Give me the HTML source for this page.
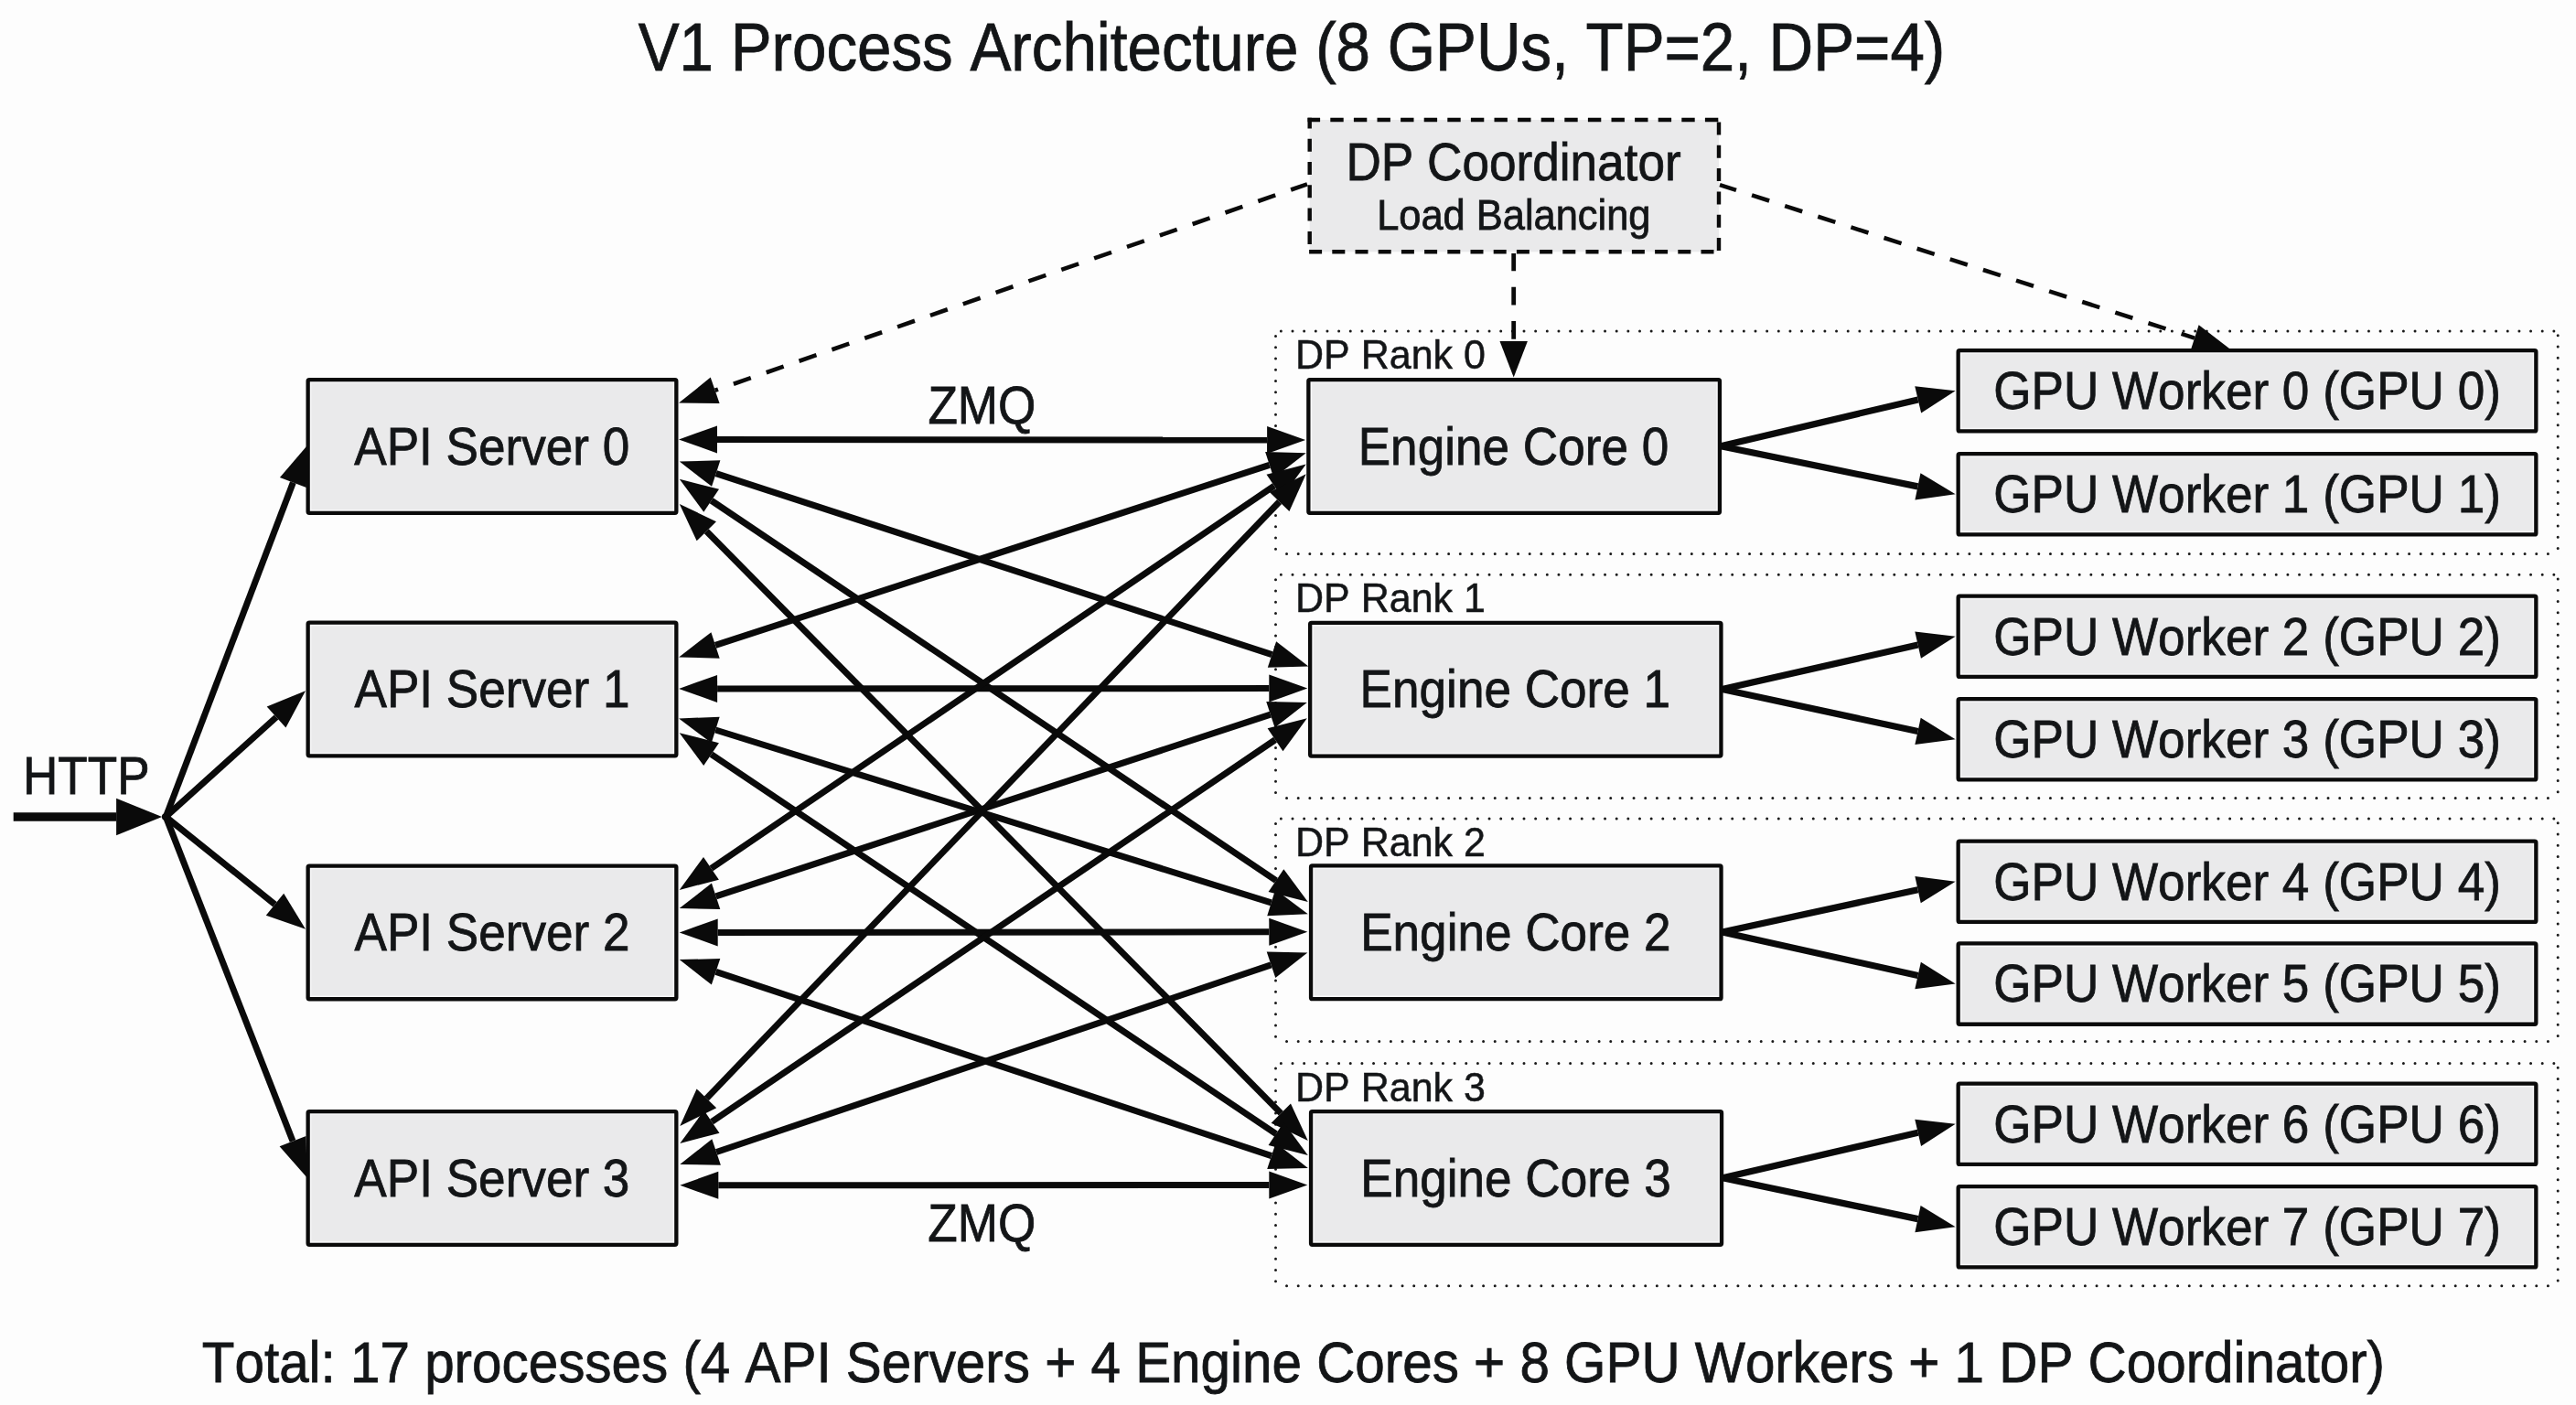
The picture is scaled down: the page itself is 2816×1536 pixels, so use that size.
<!DOCTYPE html><html><head><meta charset="utf-8"><style>html,body{margin:0;padding:0;background:#fdfdfd;}svg{display:block;will-change:transform;}text{font-family:"Liberation Sans",sans-serif;font-kerning:none;stroke:#131517;stroke-width:0.8px;paint-order:stroke;}text.lt{stroke-width:0.5px;}</style></head><body>
<svg width="2816" height="1536" viewBox="0 0 2816 1536">
<rect width="2816" height="1536" fill="#fdfdfd"/>
<line x1="1394.5" y1="361.9" x2="2796.2" y2="361.9" stroke="#1a1a1a" stroke-width="3.0" stroke-linecap="round" fill="none" stroke-dasharray="0 12.65" stroke-dashoffset="-5.85"/>
<line x1="1394.5" y1="605.5" x2="2796.2" y2="605.5" stroke="#1a1a1a" stroke-width="3.0" stroke-linecap="round" fill="none" stroke-dasharray="0 12.65" stroke-dashoffset="-12.05"/>
<line x1="1394.5" y1="361.9" x2="1394.5" y2="605.5" stroke="#1a1a1a" stroke-width="3.0" stroke-linecap="round" fill="none" stroke-dasharray="0 12.25" stroke-dashoffset="-5.5"/>
<line x1="2796.2" y1="361.9" x2="2796.2" y2="605.5" stroke="#1a1a1a" stroke-width="3.0" stroke-linecap="round" fill="none" stroke-dasharray="0 12.25" stroke-dashoffset="-4.8"/>
<line x1="1394.5" y1="628.2" x2="2796.2" y2="628.2" stroke="#1a1a1a" stroke-width="3.0" stroke-linecap="round" fill="none" stroke-dasharray="0 12.65" stroke-dashoffset="-5.85"/>
<line x1="1394.5" y1="872.4" x2="2796.2" y2="872.4" stroke="#1a1a1a" stroke-width="3.0" stroke-linecap="round" fill="none" stroke-dasharray="0 12.65" stroke-dashoffset="-12.05"/>
<line x1="1394.5" y1="628.2" x2="1394.5" y2="872.4" stroke="#1a1a1a" stroke-width="3.0" stroke-linecap="round" fill="none" stroke-dasharray="0 12.25" stroke-dashoffset="-5.5"/>
<line x1="2796.2" y1="628.2" x2="2796.2" y2="872.4" stroke="#1a1a1a" stroke-width="3.0" stroke-linecap="round" fill="none" stroke-dasharray="0 12.25" stroke-dashoffset="-4.8"/>
<line x1="1394.5" y1="895" x2="2796.2" y2="895" stroke="#1a1a1a" stroke-width="3.0" stroke-linecap="round" fill="none" stroke-dasharray="0 12.65" stroke-dashoffset="-5.85"/>
<line x1="1394.5" y1="1138.5" x2="2796.2" y2="1138.5" stroke="#1a1a1a" stroke-width="3.0" stroke-linecap="round" fill="none" stroke-dasharray="0 12.65" stroke-dashoffset="-12.05"/>
<line x1="1394.5" y1="895" x2="1394.5" y2="1138.5" stroke="#1a1a1a" stroke-width="3.0" stroke-linecap="round" fill="none" stroke-dasharray="0 12.25" stroke-dashoffset="-5.5"/>
<line x1="2796.2" y1="895" x2="2796.2" y2="1138.5" stroke="#1a1a1a" stroke-width="3.0" stroke-linecap="round" fill="none" stroke-dasharray="0 12.25" stroke-dashoffset="-4.8"/>
<line x1="1394.5" y1="1162.4" x2="2796.2" y2="1162.4" stroke="#1a1a1a" stroke-width="3.0" stroke-linecap="round" fill="none" stroke-dasharray="0 12.65" stroke-dashoffset="-5.85"/>
<line x1="1394.5" y1="1405.7" x2="2796.2" y2="1405.7" stroke="#1a1a1a" stroke-width="3.0" stroke-linecap="round" fill="none" stroke-dasharray="0 12.65" stroke-dashoffset="-12.05"/>
<line x1="1394.5" y1="1162.4" x2="1394.5" y2="1405.7" stroke="#1a1a1a" stroke-width="3.0" stroke-linecap="round" fill="none" stroke-dasharray="0 12.25" stroke-dashoffset="-5.5"/>
<line x1="2796.2" y1="1162.4" x2="2796.2" y2="1405.7" stroke="#1a1a1a" stroke-width="3.0" stroke-linecap="round" fill="none" stroke-dasharray="0 12.25" stroke-dashoffset="-4.8"/>
<text class="lt" transform="translate(1416.07,403) scale(0.9730,1)" font-size="44.20" fill="#131517">DP Rank 0</text>
<text class="lt" transform="translate(1416.07,669.3) scale(0.9730,1)" font-size="44.20" fill="#131517">DP Rank 1</text>
<text class="lt" transform="translate(1416.07,936.1) scale(0.9730,1)" font-size="44.20" fill="#131517">DP Rank 2</text>
<text class="lt" transform="translate(1416.07,1203.5) scale(0.9730,1)" font-size="44.20" fill="#131517">DP Rank 3</text>
<polygon points="177.1,892.9 127.1,913.15 127.1,872.65" fill="#0a0a0a"/>
<line x1="14.7" y1="892.9" x2="127.1" y2="892.9" stroke="#0a0a0a" stroke-width="9.5"/>
<polygon points="335.7,487.3 334.89,533 305.92,521.97" fill="#0a0a0a"/>
<line x1="181.3" y1="892.9" x2="320.4" y2="527.49" stroke="#0a0a0a" stroke-width="7"/>
<polygon points="334,755.2 312.45,795.51 291.69,772.49" fill="#0a0a0a"/>
<line x1="181.3" y1="892.9" x2="302.07" y2="784" stroke="#0a0a0a" stroke-width="7"/>
<polygon points="334,1015.7 290.78,1000.83 310.2,976.67" fill="#0a0a0a"/>
<line x1="181.3" y1="892.9" x2="300.49" y2="988.75" stroke="#0a0a0a" stroke-width="7"/>
<polygon points="335.7,1287.6 305.6,1253.2 334.47,1241.91" fill="#0a0a0a"/>
<line x1="181.3" y1="892.9" x2="320.04" y2="1247.55" stroke="#0a0a0a" stroke-width="7"/>
<circle cx="180.5" cy="892.9" r="3.6" fill="#0a0a0a"/>
<polygon points="742,480.4 784.02,465.44 783.98,495.44" fill="#0a0a0a"/>
<polygon points="1427.1,481.1 1385.08,496.06 1385.12,466.06" fill="#0a0a0a"/>
<line x1="784" y1="480.44" x2="1385.1" y2="481.06" stroke="#0a0a0a" stroke-width="7"/>
<polygon points="742.8,504.6 787.38,503.35 778.09,531.87" fill="#0a0a0a"/>
<polygon points="1430.4,728.6 1385.82,729.85 1395.11,701.33" fill="#0a0a0a"/>
<line x1="782.73" y1="517.61" x2="1390.47" y2="715.59" stroke="#0a0a0a" stroke-width="7"/>
<polygon points="742.8,523.8 786.02,534.8 769.27,559.69" fill="#0a0a0a"/>
<polygon points="1429.8,986.1 1386.58,975.1 1403.33,950.21" fill="#0a0a0a"/>
<line x1="777.65" y1="547.25" x2="1394.95" y2="962.65" stroke="#0a0a0a" stroke-width="7"/>
<polygon points="742.8,550.9 782.98,570.26 761.63,591.33" fill="#0a0a0a"/>
<polygon points="1429.8,1247 1389.62,1227.64 1410.97,1206.57" fill="#0a0a0a"/>
<line x1="772.3" y1="580.79" x2="1400.3" y2="1217.11" stroke="#0a0a0a" stroke-width="7"/>
<polygon points="742.1,718.4 777.4,691.14 786.68,719.67" fill="#0a0a0a"/>
<polygon points="1427.7,495.3 1392.4,522.56 1383.12,494.03" fill="#0a0a0a"/>
<line x1="782.04" y1="705.4" x2="1387.76" y2="508.3" stroke="#0a0a0a" stroke-width="7"/>
<polygon points="742.1,752.9 784.09,737.88 784.11,767.88" fill="#0a0a0a"/>
<polygon points="1429.3,752.6 1387.31,767.62 1387.29,737.62" fill="#0a0a0a"/>
<line x1="784.1" y1="752.88" x2="1387.3" y2="752.62" stroke="#0a0a0a" stroke-width="7"/>
<polygon points="742.1,785.5 786.66,783.65 777.75,812.29" fill="#0a0a0a"/>
<polygon points="1429.8,999.3 1385.24,1001.15 1394.15,972.51" fill="#0a0a0a"/>
<line x1="782.21" y1="797.97" x2="1389.69" y2="986.83" stroke="#0a0a0a" stroke-width="7"/>
<polygon points="742.7,801.2 785.93,812.18 769.19,837.08" fill="#0a0a0a"/>
<polygon points="1429.8,1263 1386.57,1252.02 1403.31,1227.12" fill="#0a0a0a"/>
<line x1="777.56" y1="824.63" x2="1394.94" y2="1239.57" stroke="#0a0a0a" stroke-width="7"/>
<polygon points="742.7,972.9 769.01,936.89 785.87,961.7" fill="#0a0a0a"/>
<polygon points="1427.7,507.5 1401.39,543.51 1384.53,518.7" fill="#0a0a0a"/>
<line x1="777.44" y1="949.3" x2="1392.96" y2="531.1" stroke="#0a0a0a" stroke-width="7"/>
<polygon points="742.7,992.9 777.94,965.57 787.28,994.08" fill="#0a0a0a"/>
<polygon points="1428.8,768.1 1393.56,795.43 1384.22,766.92" fill="#0a0a0a"/>
<line x1="782.61" y1="979.82" x2="1388.89" y2="781.18" stroke="#0a0a0a" stroke-width="7"/>
<polygon points="742.7,1019.5 784.68,1004.46 784.72,1034.46" fill="#0a0a0a"/>
<polygon points="1429.3,1018.8 1387.32,1033.84 1387.28,1003.84" fill="#0a0a0a"/>
<line x1="784.7" y1="1019.46" x2="1387.3" y2="1018.84" stroke="#0a0a0a" stroke-width="7"/>
<polygon points="742.7,1049.1 787.29,1048.08 777.85,1076.56" fill="#0a0a0a"/>
<polygon points="1429.8,1276.9 1385.21,1277.92 1394.65,1249.44" fill="#0a0a0a"/>
<line x1="782.57" y1="1062.32" x2="1389.93" y2="1263.68" stroke="#0a0a0a" stroke-width="7"/>
<polygon points="743.3,1231.1 761.57,1190.41 783.21,1211.19" fill="#0a0a0a"/>
<polygon points="1427.7,518.2 1409.43,558.89 1387.79,538.11" fill="#0a0a0a"/>
<line x1="772.39" y1="1200.8" x2="1398.61" y2="548.5" stroke="#0a0a0a" stroke-width="7"/>
<polygon points="743.3,1249.9 769.65,1213.92 786.48,1238.75" fill="#0a0a0a"/>
<polygon points="1428.8,785.2 1402.45,821.18 1385.62,796.35" fill="#0a0a0a"/>
<line x1="778.06" y1="1226.33" x2="1394.04" y2="808.77" stroke="#0a0a0a" stroke-width="7"/>
<polygon points="743.3,1272.9 778.3,1245.26 787.89,1273.68" fill="#0a0a0a"/>
<polygon points="1429.3,1041.4 1394.3,1069.04 1384.71,1040.62" fill="#0a0a0a"/>
<line x1="783.1" y1="1259.47" x2="1389.5" y2="1054.83" stroke="#0a0a0a" stroke-width="7"/>
<polygon points="743.3,1295.8 785.29,1280.78 785.31,1310.78" fill="#0a0a0a"/>
<polygon points="1429.3,1295.5 1387.31,1310.52 1387.29,1280.52" fill="#0a0a0a"/>
<line x1="785.3" y1="1295.78" x2="1387.3" y2="1295.52" stroke="#0a0a0a" stroke-width="7"/>
<polygon points="2137.6,427.3 2100.16,451.53 2093.28,422.33" fill="#0a0a0a"/>
<line x1="1881.1" y1="487.7" x2="2096.72" y2="436.93" stroke="#0a0a0a" stroke-width="7.2"/>
<polygon points="2137.6,540.3 2093.44,546.56 2099.47,517.17" fill="#0a0a0a"/>
<line x1="1881.1" y1="487.7" x2="2096.46" y2="531.86" stroke="#0a0a0a" stroke-width="7.2"/>
<polygon points="2137.6,695.8 2099.94,719.69 2093.33,690.42" fill="#0a0a0a"/>
<line x1="1882.6" y1="753.4" x2="2096.63" y2="705.05" stroke="#0a0a0a" stroke-width="7.2"/>
<polygon points="2137.6,808.3 2093.38,814.12 2099.7,784.8" fill="#0a0a0a"/>
<line x1="1882.6" y1="753.4" x2="2096.54" y2="799.46" stroke="#0a0a0a" stroke-width="7.2"/>
<polygon points="2137.6,963.8 2099.73,987.35 2093.38,958.03" fill="#0a0a0a"/>
<line x1="1882.7" y1="1019" x2="2096.55" y2="972.69" stroke="#0a0a0a" stroke-width="7.2"/>
<polygon points="2137.6,1075.6 2093.35,1081.14 2099.85,1051.85" fill="#0a0a0a"/>
<line x1="1882.7" y1="1019" x2="2096.6" y2="1066.5" stroke="#0a0a0a" stroke-width="7.2"/>
<polygon points="2137.6,1228.8 2100.07,1252.89 2093.3,1223.66" fill="#0a0a0a"/>
<line x1="1883.2" y1="1287.7" x2="2096.68" y2="1238.27" stroke="#0a0a0a" stroke-width="7.2"/>
<polygon points="2137.6,1341.3 2093.41,1347.32 2099.59,1317.96" fill="#0a0a0a"/>
<line x1="1883.2" y1="1287.7" x2="2096.5" y2="1332.64" stroke="#0a0a0a" stroke-width="7.2"/>
<polygon points="742,440.6 776.73,412.62 786.6,440.95" fill="#0a0a0a"/>
<line x1="1429" y1="201.3" x2="781.66" y2="426.78" stroke="#0a0a0a" stroke-width="4.6" stroke-dasharray="20 17.95" stroke-dashoffset="1.1"/>
<polygon points="1654.7,412.5 1639.5,373 1669.9,373" fill="#0a0a0a"/>
<line x1="1654.7" y1="277" x2="1654.7" y2="373" stroke="#0a0a0a" stroke-width="4.8" stroke-dasharray="19.8 17.5" stroke-dashoffset="0.6"/>
<polygon points="2439,382.5 2394.42,383.88 2403.64,355.33" fill="#0a0a0a"/>
<line x1="1880" y1="202.1" x2="2399.03" y2="369.6" stroke="#0a0a0a" stroke-width="4.6" stroke-dasharray="20 17.95" stroke-dashoffset="1.1"/>
<rect x="336.65" y="415.15" width="402.7" height="145.7" rx="1.5" fill="#eaeaeb"/>
<rect x="339.6" y="418.1" width="396.8" height="139.8" fill="none" stroke="#f7f7f8" stroke-width="1.6"/>
<rect x="336.65" y="415.15" width="402.7" height="145.7" rx="1.5" fill="none" stroke="#0a0a0a" stroke-width="4.3"/>
<text transform="translate(387.21,507.6) scale(0.9320,1)" font-size="57.00" fill="#131517">API Server 0</text>
<rect x="336.65" y="680.65" width="402.7" height="145.7" rx="1.5" fill="#eaeaeb"/>
<rect x="339.6" y="683.6" width="396.8" height="139.8" fill="none" stroke="#f7f7f8" stroke-width="1.6"/>
<rect x="336.65" y="680.65" width="402.7" height="145.7" rx="1.5" fill="none" stroke="#0a0a0a" stroke-width="4.3"/>
<text transform="translate(387.47,773.1) scale(0.9320,1)" font-size="57.00" fill="#131517">API Server 1</text>
<rect x="336.65" y="946.55" width="402.7" height="145.7" rx="1.5" fill="#eaeaeb"/>
<rect x="339.6" y="949.5" width="396.8" height="139.8" fill="none" stroke="#f7f7f8" stroke-width="1.6"/>
<rect x="336.65" y="946.55" width="402.7" height="145.7" rx="1.5" fill="none" stroke="#0a0a0a" stroke-width="4.3"/>
<text transform="translate(387.51,1039) scale(0.9320,1)" font-size="57.00" fill="#131517">API Server 2</text>
<rect x="336.65" y="1215.15" width="402.7" height="145.7" rx="1.5" fill="#eaeaeb"/>
<rect x="339.6" y="1218.1" width="396.8" height="139.8" fill="none" stroke="#f7f7f8" stroke-width="1.6"/>
<rect x="336.65" y="1215.15" width="402.7" height="145.7" rx="1.5" fill="none" stroke="#0a0a0a" stroke-width="4.3"/>
<text transform="translate(387.34,1307.6) scale(0.9320,1)" font-size="57.00" fill="#131517">API Server 3</text>
<rect x="1430.35" y="415.15" width="449.6" height="145.7" rx="1.5" fill="#eaeaeb"/>
<rect x="1433.3" y="418.1" width="443.7" height="139.8" fill="none" stroke="#f7f7f8" stroke-width="1.6"/>
<rect x="1430.35" y="415.15" width="449.6" height="145.7" rx="1.5" fill="none" stroke="#0a0a0a" stroke-width="4.3"/>
<text transform="translate(1484.7,507.5) scale(0.9320,1)" font-size="57.00" fill="#131517">Engine Core 0</text>
<rect x="1432.15" y="680.85" width="449.3" height="145.7" rx="1.5" fill="#eaeaeb"/>
<rect x="1435.1" y="683.8" width="443.4" height="139.8" fill="none" stroke="#f7f7f8" stroke-width="1.6"/>
<rect x="1432.15" y="680.85" width="449.3" height="145.7" rx="1.5" fill="none" stroke="#0a0a0a" stroke-width="4.3"/>
<text transform="translate(1486.61,773.2) scale(0.9320,1)" font-size="57.00" fill="#131517">Engine Core 1</text>
<rect x="1433.05" y="946.45" width="448.5" height="145.7" rx="1.5" fill="#eaeaeb"/>
<rect x="1436" y="949.4" width="442.6" height="139.8" fill="none" stroke="#f7f7f8" stroke-width="1.6"/>
<rect x="1433.05" y="946.45" width="448.5" height="145.7" rx="1.5" fill="none" stroke="#0a0a0a" stroke-width="4.3"/>
<text transform="translate(1487.14,1038.8) scale(0.9320,1)" font-size="57.00" fill="#131517">Engine Core 2</text>
<rect x="1433.05" y="1215.15" width="449" height="145.7" rx="1.5" fill="#eaeaeb"/>
<rect x="1436" y="1218.1" width="443.1" height="139.8" fill="none" stroke="#f7f7f8" stroke-width="1.6"/>
<rect x="1433.05" y="1215.15" width="449" height="145.7" rx="1.5" fill="none" stroke="#0a0a0a" stroke-width="4.3"/>
<text transform="translate(1487.23,1307.5) scale(0.9320,1)" font-size="57.00" fill="#131517">Engine Core 3</text>
<rect x="2140.65" y="383.15" width="631.7" height="88.3" rx="1.5" fill="#eaeaeb"/>
<rect x="2143.6" y="386.1" width="625.8" height="82.4" fill="none" stroke="#f7f7f8" stroke-width="1.6"/>
<rect x="2140.65" y="383.15" width="631.7" height="88.3" rx="1.5" fill="none" stroke="#0a0a0a" stroke-width="4.3"/>
<text transform="translate(2179.15,447) scale(0.9320,1)" font-size="57.00" fill="#131517">GPU Worker 0 (GPU 0)</text>
<rect x="2140.65" y="496.15" width="631.7" height="88.3" rx="1.5" fill="#eaeaeb"/>
<rect x="2143.6" y="499.1" width="625.8" height="82.4" fill="none" stroke="#f7f7f8" stroke-width="1.6"/>
<rect x="2140.65" y="496.15" width="631.7" height="88.3" rx="1.5" fill="none" stroke="#0a0a0a" stroke-width="4.3"/>
<text transform="translate(2179.15,560) scale(0.9320,1)" font-size="57.00" fill="#131517">GPU Worker 1 (GPU 1)</text>
<rect x="2140.65" y="651.65" width="631.7" height="88.3" rx="1.5" fill="#eaeaeb"/>
<rect x="2143.6" y="654.6" width="625.8" height="82.4" fill="none" stroke="#f7f7f8" stroke-width="1.6"/>
<rect x="2140.65" y="651.65" width="631.7" height="88.3" rx="1.5" fill="none" stroke="#0a0a0a" stroke-width="4.3"/>
<text transform="translate(2179.15,715.5) scale(0.9320,1)" font-size="57.00" fill="#131517">GPU Worker 2 (GPU 2)</text>
<rect x="2140.65" y="764.15" width="631.7" height="88.3" rx="1.5" fill="#eaeaeb"/>
<rect x="2143.6" y="767.1" width="625.8" height="82.4" fill="none" stroke="#f7f7f8" stroke-width="1.6"/>
<rect x="2140.65" y="764.15" width="631.7" height="88.3" rx="1.5" fill="none" stroke="#0a0a0a" stroke-width="4.3"/>
<text transform="translate(2179.15,828) scale(0.9320,1)" font-size="57.00" fill="#131517">GPU Worker 3 (GPU 3)</text>
<rect x="2140.65" y="919.65" width="631.7" height="88.3" rx="1.5" fill="#eaeaeb"/>
<rect x="2143.6" y="922.6" width="625.8" height="82.4" fill="none" stroke="#f7f7f8" stroke-width="1.6"/>
<rect x="2140.65" y="919.65" width="631.7" height="88.3" rx="1.5" fill="none" stroke="#0a0a0a" stroke-width="4.3"/>
<text transform="translate(2179.15,983.5) scale(0.9320,1)" font-size="57.00" fill="#131517">GPU Worker 4 (GPU 4)</text>
<rect x="2140.65" y="1031.45" width="631.7" height="88.3" rx="1.5" fill="#eaeaeb"/>
<rect x="2143.6" y="1034.4" width="625.8" height="82.4" fill="none" stroke="#f7f7f8" stroke-width="1.6"/>
<rect x="2140.65" y="1031.45" width="631.7" height="88.3" rx="1.5" fill="none" stroke="#0a0a0a" stroke-width="4.3"/>
<text transform="translate(2179.15,1095.3) scale(0.9320,1)" font-size="57.00" fill="#131517">GPU Worker 5 (GPU 5)</text>
<rect x="2140.65" y="1184.65" width="631.7" height="88.3" rx="1.5" fill="#eaeaeb"/>
<rect x="2143.6" y="1187.6" width="625.8" height="82.4" fill="none" stroke="#f7f7f8" stroke-width="1.6"/>
<rect x="2140.65" y="1184.65" width="631.7" height="88.3" rx="1.5" fill="none" stroke="#0a0a0a" stroke-width="4.3"/>
<text transform="translate(2179.15,1248.5) scale(0.9320,1)" font-size="57.00" fill="#131517">GPU Worker 6 (GPU 6)</text>
<rect x="2140.65" y="1297.15" width="631.7" height="88.3" rx="1.5" fill="#eaeaeb"/>
<rect x="2143.6" y="1300.1" width="625.8" height="82.4" fill="none" stroke="#f7f7f8" stroke-width="1.6"/>
<rect x="2140.65" y="1297.15" width="631.7" height="88.3" rx="1.5" fill="none" stroke="#0a0a0a" stroke-width="4.3"/>
<text transform="translate(2179.15,1361) scale(0.9320,1)" font-size="57.00" fill="#131517">GPU Worker 7 (GPU 7)</text>
<rect x="1431.7" y="131.0" width="447.3" height="144.3" fill="#eaeaeb"/>
<line x1="1429.5" y1="131" x2="1881.2" y2="131" stroke="#0a0a0a" stroke-width="4.4" stroke-dasharray="14.4 11.2" stroke-dashoffset="0.8"/>
<line x1="1879" y1="128.8" x2="1879" y2="277.5" stroke="#0a0a0a" stroke-width="4.4" stroke-dasharray="14 11.3" stroke-dashoffset="-4.7"/>
<line x1="1429.5" y1="275.3" x2="1881.2" y2="275.3" stroke="#0a0a0a" stroke-width="4.4" stroke-dasharray="14 11.2" stroke-dashoffset="-1.6"/>
<line x1="1431.7" y1="128.8" x2="1431.7" y2="277.5" stroke="#0a0a0a" stroke-width="4.4" stroke-dasharray="14 11.3" stroke-dashoffset="2.4"/>
<text transform="translate(1471.44,196.7) scale(0.9398,1)" font-size="56.54" fill="#131517">DP Coordinator</text>
<text transform="translate(1505.14,250.9) scale(0.9457,1)" font-size="45.93" fill="#131517">Load Balancing</text>
<text transform="translate(1014.42,462.7) scale(0.9320,1)" font-size="57.00" fill="#131517">ZMQ</text>
<text transform="translate(1014.22,1357.2) scale(0.9320,1)" font-size="57.00" fill="#131517">ZMQ</text>
<text transform="translate(24.94,867.8) scale(0.9320,1)" font-size="57.00" fill="#131517">HTTP</text>
<text transform="translate(697.7,77.3) scale(0.9187,1)" font-size="73.26" fill="#131517">V1 Process Architecture (8 GPUs, TP=2, DP=4)</text>
<text transform="translate(220.79,1511) scale(0.9341,1)" font-size="62.50" fill="#131517">Total: 17 processes (4 API Servers + 4 Engine Cores + 8 GPU Workers + 1 DP Coordinator)</text>
</svg></body></html>
